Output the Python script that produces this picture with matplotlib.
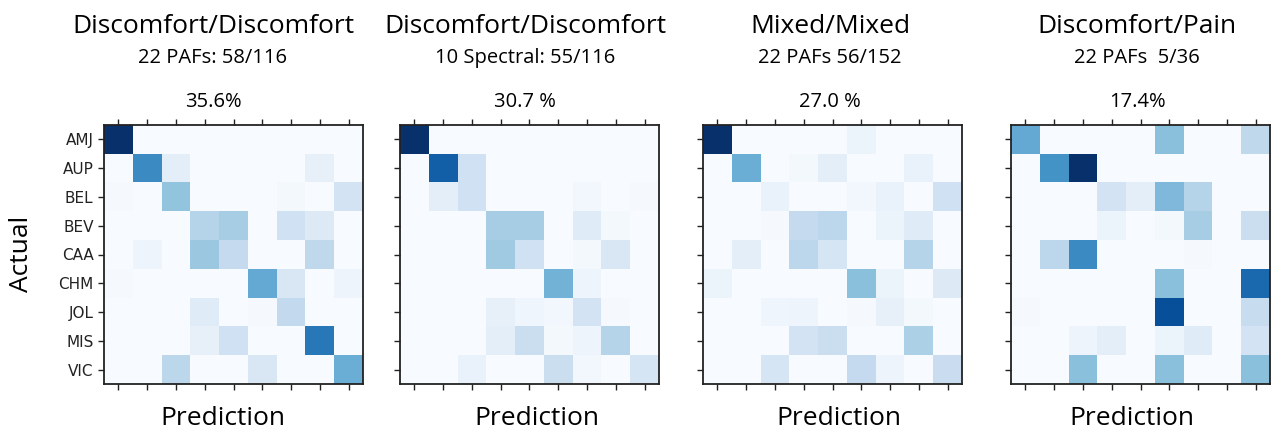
import numpy as np
import matplotlib
matplotlib.use("Agg")
import matplotlib.pyplot as plt

# class labels (actual / predicted)
labels = ['AMJ', 'AUP', 'BEL', 'BEV', 'CAA', 'CHM', 'JOL', 'MIS', 'VIC']

titles = ['Discomfort/Discomfort', 'Discomfort/Discomfort', 'Mixed/Mixed', 'Discomfort/Pain']
subtitles = ['22 PAFs: 58/116', '10 Spectral: 55/116', '22 PAFs 56/152', '22 PAFs  5/36']
accuracies = ['35.6%', '30.7 %', '27.0 %', '17.4%']

# confusion matrices (relative intensity, rows = actual)
cm_paf = [
    [1.00, 0, 0, 0, 0, 0, 0, 0, 0],
    [0, 0.65, 0.10, 0, 0, 0, 0, 0.08, 0],
    [0.01, 0, 0.40, 0, 0, 0, 0.02, 0, 0.18],
    [0, 0, 0, 0.30, 0.35, 0, 0.20, 0.13, 0],
    [0, 0.05, 0, 0.38, 0.25, 0, 0, 0.27, 0],
    [0.01, 0, 0, 0, 0, 0.52, 0.15, 0, 0.05],
    [0, 0, 0, 0.12, 0, 0.01, 0.26, 0, 0],
    [0, 0, 0, 0.08, 0.20, 0, 0, 0.72, 0],
    [0, 0, 0.28, 0, 0, 0.15, 0, 0, 0.50],
]
cm_spectral = [
    [1.00, 0, 0, 0, 0, 0, 0, 0, 0],
    [0, 0.82, 0.20, 0, 0, 0, 0, 0, 0],
    [0, 0.10, 0.20, 0, 0, 0, 0.03, 0, 0.01],
    [0, 0, 0, 0.35, 0.35, 0, 0.12, 0.02, 0],
    [0, 0, 0, 0.37, 0.20, 0, 0.02, 0.15, 0],
    [0, 0, 0, 0, 0, 0.48, 0.05, 0, 0],
    [0, 0, 0, 0.08, 0.04, 0.03, 0.18, 0.01, 0],
    [0, 0, 0, 0.10, 0.22, 0.02, 0.05, 0.30, 0],
    [0, 0, 0.07, 0, 0, 0.22, 0.03, 0, 0.17],
]
cm_mixed = [
    [1.00, 0, 0, 0, 0, 0.06, 0, 0, 0],
    [0, 0.50, 0, 0.02, 0.10, 0, 0, 0.07, 0],
    [0, 0, 0.07, 0, 0, 0.03, 0.07, 0, 0.20],
    [0, 0, 0.01, 0.25, 0.28, 0, 0.06, 0.12, 0],
    [0, 0.10, 0, 0.28, 0.17, 0, 0, 0.30, 0],
    [0.06, 0, 0, 0, 0, 0.42, 0.06, 0, 0.13],
    [0, 0, 0.04, 0.05, 0, 0.01, 0.08, 0.02, 0],
    [0, 0, 0, 0.18, 0.22, 0, 0, 0.33, 0],
    [0, 0, 0.17, 0, 0, 0.25, 0.05, 0, 0.23],
]
cm_pain = [
    [0.52, 0, 0, 0, 0, 0.42, 0, 0, 0.27],
    [0, 0.62, 1.00, 0, 0, 0, 0, 0, 0],
    [0, 0, 0, 0.18, 0.10, 0.45, 0.30, 0, 0],
    [0, 0, 0, 0.06, 0, 0.02, 0.35, 0, 0.22],
    [0, 0.28, 0.65, 0, 0, 0, 0.01, 0, 0],
    [0, 0, 0, 0, 0, 0.42, 0, 0, 0.78],
    [0.01, 0, 0, 0, 0, 0.88, 0, 0, 0.24],
    [0, 0, 0.05, 0.10, 0, 0.06, 0.12, 0, 0.18],
    [0, 0, 0.42, 0, 0, 0.42, 0, 0, 0.42],
]
matrices = [cm_paf, cm_spectral, cm_mixed, cm_pain]

W, H = 1271, 429
fig = plt.figure(figsize=(W / 100, H / 100), dpi=100)

# axes boxes in pixels (left, top, size) and text centres
ax_left = [104, 400, 703, 1011]
ax_top, ax_size = 125, 259
text_x = [213, 525, 830, 1137]
pred_x = [223, 537, 839, 1132]

title_font = 'Open Sans'

for i, cm in enumerate(matrices):
    ax = fig.add_axes([ax_left[i] / W, (H - ax_top - ax_size) / H, ax_size / W, ax_size / H])
    ax.imshow(np.array(cm), cmap='Blues', vmin=0, vmax=1, interpolation='nearest', aspect='auto')
    ax.set_xticks(np.arange(len(labels)))
    ax.set_yticks(np.arange(len(labels)))
    ax.tick_params(top=True, bottom=True, left=True, right=False, direction='out',
                   length=4, width=1, color='#222222',
                   labelbottom=False, labeltop=False)
    if i == 0:
        ax.set_yticklabels(labels, fontsize=11, color='#222222')
    else:
        ax.set_yticklabels([])
    for s in ax.spines.values():
        s.set_linewidth(1.3)
        s.set_color('#222222')

    fig.text(text_x[i] / W, 1 - 33 / H, titles[i], family=title_font, fontsize=19,
             ha='center', va='baseline', color='#000000')
    fig.text(text_x[i] / W, 1 - 63 / H, subtitles[i], family=title_font, fontsize=14.5,
             ha='center', va='baseline', color='#000000')
    fig.text(text_x[i] / W, 1 - 107 / H, accuracies[i], family=title_font, fontsize=14.5,
             ha='center', va='baseline', color='#000000')
    fig.text(pred_x[i] / W, 1 - 425 / H, 'Prediction', family=title_font, fontsize=19,
             ha='center', va='baseline', color='#000000')

fig.text(22 / W, 1 - 254 / H, 'Actual', family=title_font, fontsize=19, rotation=90,
         ha='center', va='center', color='#000000')

fig.savefig('out.png', dpi=100)
